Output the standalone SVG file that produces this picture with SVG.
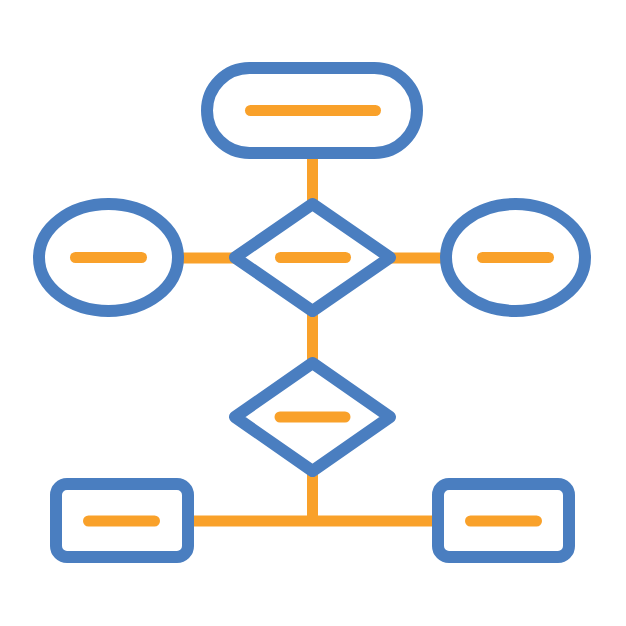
<svg xmlns="http://www.w3.org/2000/svg" width="626" height="626" viewBox="0 0 626 626">
<style>
.shape{fill:#fff;stroke:#4a7ec0;stroke-width:12;stroke-linejoin:round}
.bar{stroke:#f9a12a;stroke-width:11;stroke-linecap:round;fill:none}
.conn{stroke:#f9a12a;stroke-width:11;fill:none}
</style>
<rect width="626" height="626" fill="#fff"/>
<g id="connectors">
<line class="conn" x1="312.5" y1="155" x2="312.5" y2="205"/>
<line class="conn" x1="180" y1="258" x2="240" y2="258"/>
<line class="conn" x1="385" y1="258" x2="445" y2="258"/>
<line class="conn" x1="312.5" y1="305" x2="312.5" y2="368"/>
<line class="conn" x1="312.5" y1="470" x2="312.5" y2="521"/>
<line class="conn" x1="185" y1="521" x2="440" y2="521"/>
</g>
<g id="start">
<rect class="shape" x="207" y="68" width="210" height="85" rx="42.5"/>
<line class="bar" x1="250.5" y1="110.5" x2="375.5" y2="110.5"/>
</g>
<g id="left-ellipse">
<ellipse class="shape" cx="108.5" cy="257.5" rx="69.5" ry="53.5"/>
<line class="bar" x1="75.5" y1="257.5" x2="141.5" y2="257.5"/>
</g>
<g id="decision1">
<polygon class="shape" points="312.5,204 390,257.5 312.5,311 235,257.5"/>
<line class="bar" x1="280.5" y1="257.5" x2="345.5" y2="257.5"/>
</g>
<g id="right-ellipse">
<ellipse class="shape" cx="515.5" cy="257.5" rx="69.5" ry="53.5"/>
<line class="bar" x1="482.5" y1="257.5" x2="548.5" y2="257.5"/>
</g>
<g id="decision2">
<polygon class="shape" points="312.5,363 390,417 312.5,471 235,417"/>
<line class="bar" x1="280" y1="417" x2="345" y2="417"/>
</g>
<g id="left-box">
<rect class="shape" x="56" y="484" width="132" height="73" rx="11"/>
<line class="bar" x1="88.5" y1="521" x2="154.5" y2="521"/>
</g>
<g id="right-box">
<rect class="shape" x="438" y="484" width="131" height="73" rx="11"/>
<line class="bar" x1="470.5" y1="521" x2="536.5" y2="521"/>
</g>
</svg>
